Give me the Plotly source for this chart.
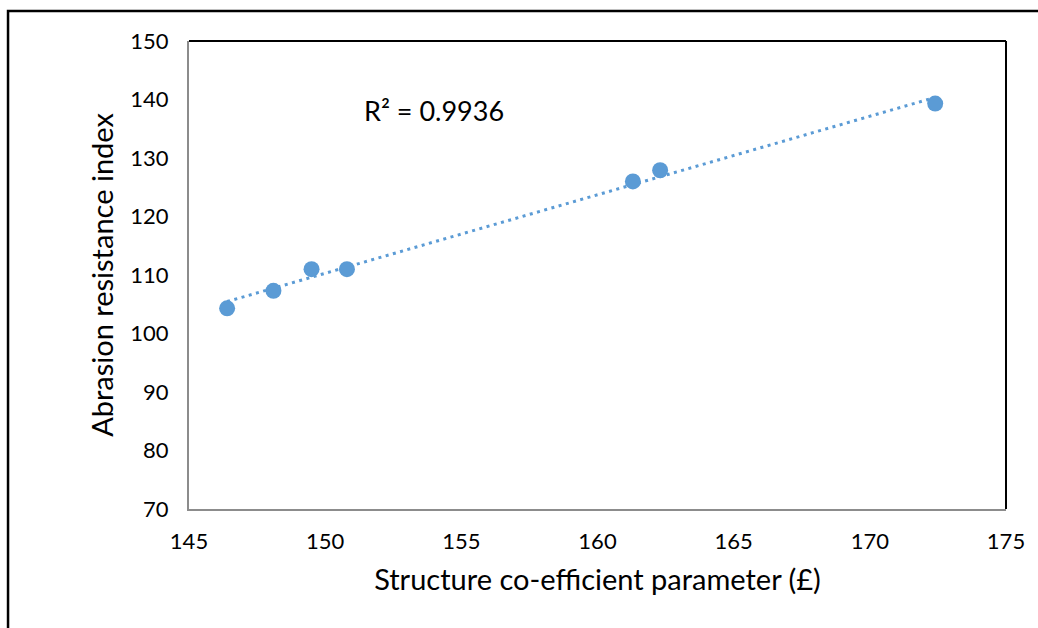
import numpy as np
import plotly.graph_objects as go

# Data
structure_coeff = [146.4, 148.1, 149.5, 150.8, 161.3, 162.3, 172.4]
abrasion_index = [104.3, 107.3, 111.0, 111.0, 126.0, 127.9, 139.3]
r2_label = "R² = 0.9936"
x_title = "Structure co-efficient parameter (£)"
y_title = "Abrasion resistance index"
x_ticks = [145, 150, 155, 160, 165, 170, 175]
y_ticks = [70, 80, 90, 100, 110, 120, 130, 140, 150]

BLUE = "#5B9BD5"
FONT = "Lato"

# linear trendline from the data
slope, intercept = np.polyfit(structure_coeff, abrasion_index, 1)
tx = [min(structure_coeff), max(structure_coeff)]
ty = [slope * v + intercept for v in tx]

fig = go.Figure()
fig.add_trace(go.Scatter(
    x=tx, y=ty, mode="lines",
    line=dict(color=BLUE, width=3, dash="3px,4.5px"),
    hoverinfo="skip", showlegend=False,
))
fig.add_trace(go.Scatter(
    x=structure_coeff, y=abrasion_index, mode="markers",
    marker=dict(color=BLUE, size=16, line=dict(width=0)),
    showlegend=False,
))

fig.update_layout(
    width=1038, height=628,
    margin=dict(l=189, r=32, t=41, b=119),
    paper_bgcolor="white", plot_bgcolor="white",
    font=dict(family=FONT, color="#000000", size=22),
    xaxis=dict(
        range=[145, 175], tickvals=x_ticks, showgrid=False, zeroline=False,
        showline=True, linecolor="#8C8C8C", linewidth=2,
        ticks="outside", ticklen=12, tickcolor="rgba(0,0,0,0)",
        tickfont=dict(family=FONT, size=22),
        title=dict(text=x_title, font=dict(family=FONT, size=29), standoff=16),
    ),
    yaxis=dict(
        range=[70, 150], tickvals=y_ticks, showgrid=False, zeroline=False,
        showline=True, linecolor="#8C8C8C", linewidth=2,
        ticks="outside", ticklen=14, tickcolor="rgba(0,0,0,0)",
        tickfont=dict(family=FONT, size=22),
        title=dict(text=y_title, font=dict(family=FONT, size=29), standoff=8),
    ),
    annotations=[dict(
        x=0.212, y=0.852, xref="paper", yref="paper", text=r2_label,
        showarrow=False, xanchor="left", yanchor="middle",
        font=dict(family=FONT, size=27),
    )],
    shapes=[
        # top and right frame lines of plot area
        dict(type="line", xref="paper", yref="paper", x0=0, x1=1, y0=1, y1=1,
             line=dict(color="black", width=2)),
        dict(type="line", xref="paper", yref="paper", x0=1, x1=1, y0=0, y1=1,
             line=dict(color="black", width=2)),
        # outer chart border
        dict(type="rect", xref="paper", yref="paper",
             x0=-0.2215, x1=1.06, y0=-0.28, y1=1.064,
             line=dict(color="black", width=2.5), fillcolor="rgba(0,0,0,0)",
             layer="below"),
    ],
)

fig.write_html("out.html")
